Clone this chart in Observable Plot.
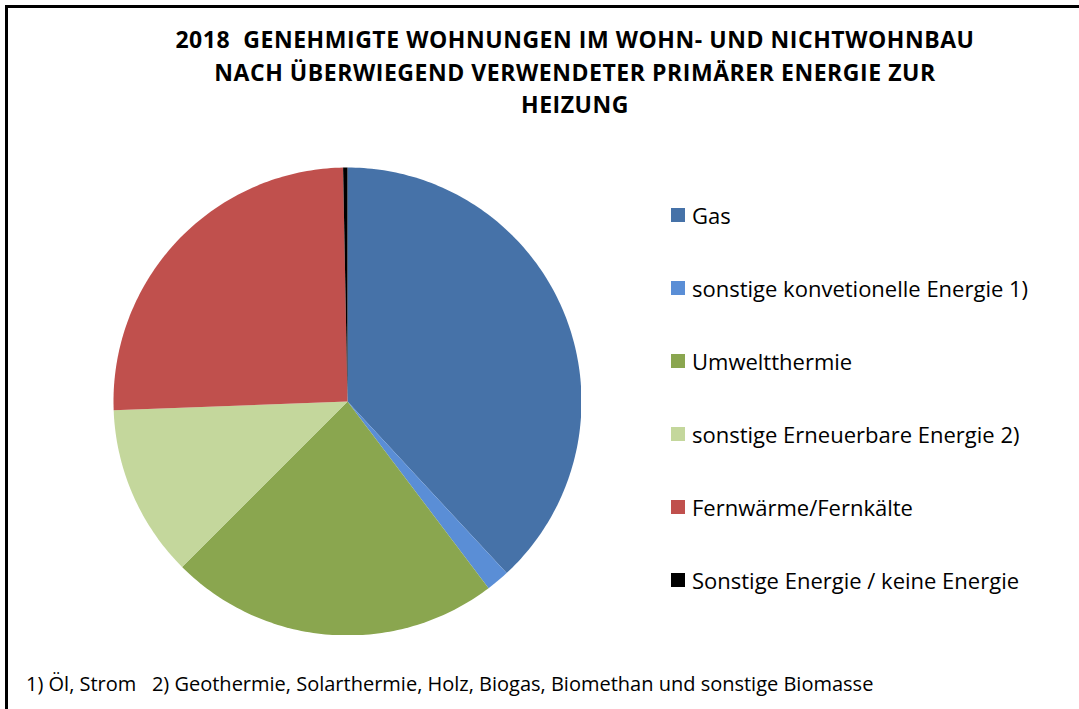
<!DOCTYPE html>
<html>
<head>
<meta charset="utf-8">
<script src="https://cdn.jsdelivr.net/npm/d3@7"></script>
<script src="https://cdn.jsdelivr.net/npm/@observablehq/plot@0.6"></script>
<style>
  html, body { margin: 0; padding: 0; background: #fff; }
  #wrap { position: relative; width: 1079px; height: 709px; overflow: hidden; font-family: "Open Sans", Lato, sans-serif; color: #000; }
  #frame { position: absolute; left: 5px; top: 5px; width: 1090px; height: 720px; border: 3px solid #000; box-sizing: border-box; }
  #title { position: absolute; left: 60px; width: 1030px; top: 23px; text-align: center; font-weight: bold; font-size: 23px; letter-spacing: 0.55px; line-height: 32.5px; white-space: pre; }
  #pie { position: absolute; left: 113px; top: 167px; }
  #legend { position: absolute; left: 671px; top: 200px; font-size: 22px; }
  .item { display: flex; align-items: center; height: 73px; margin-top: 0; }
  .item:first-child { margin-top: -22px; }
  .sw { width: 14px; height: 14px; margin-right: 7px; flex: none; }
  #foot { position: absolute; left: 26px; top: 670px; font-size: 20px; white-space: pre; }
</style>
</head>
<body>
<div id="wrap">
  <div id="frame"></div>
  <div id="title"></div>
  <div id="pie"></div>
  <div id="legend"></div>
  <div id="foot"></div>
</div>
<script>
const titleLines = [
  "2018  GENEHMIGTE WOHNUNGEN IM WOHN- UND NICHTWOHNBAU",
  "NACH ÜBERWIEGEND VERWENDETER PRIMÄRER ENERGIE ZUR",
  "HEIZUNG"
];
const categories = [
  "Gas",
  "sonstige konvetionelle Energie 1)",
  "Umweltthermie",
  "sonstige Erneuerbare Energie 2)",
  "Fernwärme/Fernkälte",
  "Sonstige Energie / keine Energie"
];
const shares = [38.1, 1.6, 22.8, 11.9, 25.3, 0.3];
const colors = ["#4672A8", "#5A8ED6", "#8AA64F", "#C4D79C", "#C0504D", "#000000"];
const footnote = "1) Öl, Strom   2) Geothermie, Solarthermie, Holz, Biogas, Biomethan und sonstige Biomasse";

document.getElementById("title").textContent = titleLines.join("\n");
document.getElementById("foot").textContent = footnote;

const data = categories.map((c, i) => ({category: c, value: shares[i]}));
const arcs = d3.pie().sort(null).value(d => d.value)(data);

// Build slice polygons (unit circle, screen y down) from the pie angles
const features = arcs.map(a => {
  const steps = Math.max(2, Math.ceil((a.endAngle - a.startAngle) / (2 * Math.PI) * 360));
  const ring = [[0, 0]];
  for (let k = 0; k <= steps; k++) {
    const t = a.startAngle + (a.endAngle - a.startAngle) * k / steps;
    ring.push([Math.sin(t), -Math.cos(t)]);
  }
  ring.push([0, 0]);
  return {type: "Feature", properties: {category: a.data.category}, geometry: {type: "Polygon", coordinates: [ring]}};
});

const size = 468;
const chart = Plot.plot({
  width: size,
  height: size,
  margin: 0,
  projection: {type: "identity", domain: {type: "MultiPoint", coordinates: [[-1, -1], [1, 1]]}},
  color: {domain: categories, range: colors},
  marks: [
    Plot.geo(features, {fill: d => d.properties.category, stroke: "none"})
  ]
});
document.getElementById("pie").appendChild(chart);

const legend = document.getElementById("legend");
categories.forEach((c, i) => {
  const row = document.createElement("div");
  row.className = "item";
  const sw = document.createElement("span");
  sw.className = "sw";
  sw.style.background = colors[i];
  const lab = document.createElement("span");
  lab.textContent = c;
  row.appendChild(sw);
  row.appendChild(lab);
  legend.appendChild(row);
});
</script>
</body>
</html>
